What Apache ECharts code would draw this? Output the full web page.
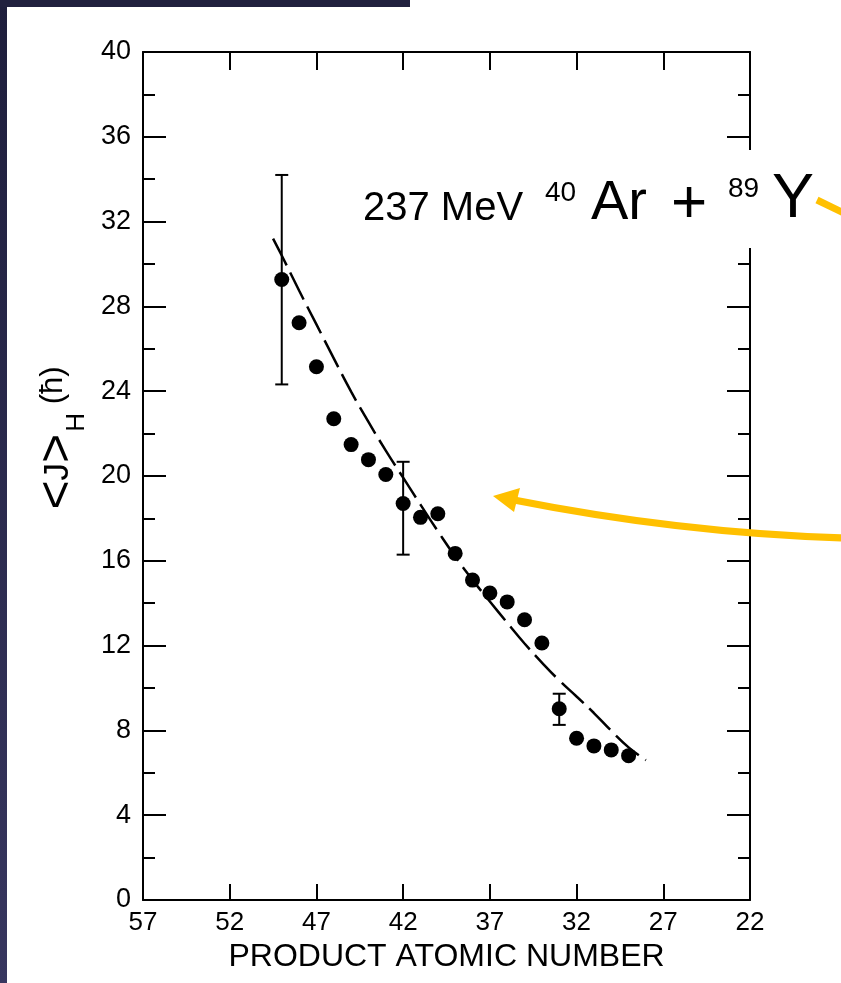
<!DOCTYPE html>
<html><head><meta charset="utf-8">
<script src="https://cdn.jsdelivr.net/npm/echarts@6/dist/echarts.min.js"></script>
<style>html,body{margin:0;padding:0;background:#fff}#c{width:841px;height:983px}</style>
</head><body><div id="c"></div>
<script>
// Measured points: product atomic number vs <J>_H
const atomicNumbers = [49, 48, 47, 46, 45, 44, 43, 42, 41, 40, 39, 38, 37, 36, 35, 34, 33, 32, 31, 30, 29];
const spinValues = [29.27, 27.23, 25.15, 22.70, 21.48, 20.77, 20.07, 18.70, 18.05, 18.22, 16.35, 15.09, 14.48, 14.06, 13.22, 12.12, 9.02, 7.63, 7.27, 7.08, 6.81];
// Error bars
const errorBarZ = [49, 42, 33];
const errorBarLow = [24.32, 16.29, 8.26];
const errorBarHigh = [34.2, 20.67, 9.73];
// Dashed calculated curve
const curveZ = [49.5, 49, 48, 47, 46, 45, 44, 43, 42, 41, 40, 39, 38, 37, 36, 35, 34, 33, 32, 31, 30, 29, 28];
const curveJ = [31.2, 30.4, 28.75, 27.15, 25.55, 23.98, 22.55, 21.2, 19.92, 18.65, 17.4, 16.2, 15.1, 14.08, 13.08, 12.1, 11.2, 10.36, 9.6, 8.82, 7.98, 7.2, 6.6];
// Tick labels
const xTickLabels = [57, 52, 47, 42, 37, 32, 27, 22];
const yTickLabels = [0, 4, 8, 12, 16, 20, 24, 28, 32, 36, 40];

const FONT = '"Liberation Sans", Arial, sans-serif';
const INK = '#000';
const GOLD = '#FFC000';

const chart = echarts.init(document.getElementById('c'), null, {renderer: 'canvas'});

const axisLineStyle = {color: INK, width: 2};

const option = {
  animation: false,
  backgroundColor: '#fff',
  textStyle: {fontFamily: FONT},
  grid: {left: 143, right: 91, top: 52, bottom: 83, containLabel: false, outerBoundsMode: 'none'},
  xAxis: [{
    type: 'value', inverse: true, min: xTickLabels[xTickLabels.length - 1], max: xTickLabels[0], position: 'bottom',
    axisLine: {show: true, onZero: false, lineStyle: axisLineStyle},
    axisTick: {show: true, inside: true, length: 16, customValues: xTickLabels, lineStyle: axisLineStyle},
    axisLabel: {show: true, customValues: xTickLabels, color: INK, fontSize: 26, fontFamily: FONT, margin: 10},
    splitLine: {show: false},
    name: 'PRODUCT ATOMIC NUMBER', nameLocation: 'middle', nameGap: 39,
    nameTextStyle: {color: INK, fontSize: 32, fontFamily: FONT}
  }, {
    type: 'value', inverse: true, min: xTickLabels[xTickLabels.length - 1], max: xTickLabels[0], position: 'top',
    axisLine: {show: true, onZero: false, lineStyle: axisLineStyle},
    axisTick: {show: true, inside: true, length: 18, customValues: xTickLabels, lineStyle: axisLineStyle},
    axisLabel: {show: false},
    splitLine: {show: false}
  }],
  yAxis: [{
    type: 'value', min: yTickLabels[0], max: yTickLabels[yTickLabels.length - 1], interval: 4, position: 'left',
    axisLine: {show: true, onZero: false, lineStyle: axisLineStyle},
    axisTick: {show: true, inside: true, length: 23, lineStyle: axisLineStyle},
    minorTick: {show: true, splitNumber: 2, length: 12, lineStyle: axisLineStyle},
    axisLabel: {color: INK, fontSize: 27, fontFamily: FONT, margin: 12},
    splitLine: {show: false}, minorSplitLine: {show: false},
    name: '{b|<}{j|J}{b|>}{s|H}{p| (ħ)}',
    nameLocation: 'middle', nameRotate: 90, nameGap: 49,
    nameTextStyle: {
      color: INK, fontFamily: FONT, padding: [0, 0, 0, 76],
      rich: {
        b: {fontSize: 50, fontFamily: FONT, color: INK},
        j: {fontSize: 35, fontFamily: FONT, color: INK},
        s: {fontSize: 26, fontFamily: FONT, color: INK, padding: [38, 0, 0, 2]},
        p: {fontSize: 31, fontFamily: FONT, color: INK, padding: [0, 0, 10, 0]}
      }
    }
  }, {
    type: 'value', min: yTickLabels[0], max: yTickLabels[yTickLabels.length - 1], interval: 4, position: 'right',
    axisLine: {show: true, onZero: false, lineStyle: axisLineStyle},
    axisTick: {show: true, inside: true, length: 23, lineStyle: axisLineStyle},
    minorTick: {show: true, splitNumber: 2, length: 12, lineStyle: axisLineStyle},
    axisLabel: {show: false},
    splitLine: {show: false}, minorSplitLine: {show: false}
  }],
  series: [{
    type: 'line', name: 'calculation', smooth: true, symbol: 'none', showSymbol: false,
    data: curveZ.map((z, i) => [z, curveJ[i]]),
    lineStyle: {color: INK, width: 2.5, type: [30, 8], opacity: 1},
    z: 2
  }, {
    type: 'custom', name: 'errors',
    encode: {x: 0, y: [1, 2]},
    data: errorBarZ.map((z, i) => [z, errorBarLow[i], errorBarHigh[i]]),
    renderItem: function (params, api) {
      const z = api.value(0);
      const lo = api.coord([z, api.value(1)]);
      const hi = api.coord([z, api.value(2)]);
      const w = 6.5;
      const style = {stroke: INK, lineWidth: 2};
      return {type: 'group', children: [
        {type: 'line', shape: {x1: lo[0], y1: lo[1], x2: hi[0], y2: hi[1]}, style: style},
        {type: 'line', shape: {x1: lo[0] - w, y1: lo[1], x2: lo[0] + w, y2: lo[1]}, style: style},
        {type: 'line', shape: {x1: hi[0] - w, y1: hi[1], x2: hi[0] + w, y2: hi[1]}, style: style}
      ]};
    },
    z: 3
  }, {
    type: 'scatter', name: 'data', symbol: 'circle', symbolSize: 15,
    data: atomicNumbers.map((z, i) => [z, spinValues[i]]),
    itemStyle: {color: INK, opacity: 1},
    z: 4
  }],
  graphic: [
    {type: 'rect', z: 100, shape: {x: 0, y: 0, width: 7, height: 983},
      style: {fill: new echarts.graphic.LinearGradient(0, 0, 0, 1, [{offset: 0, color: '#1e1e3c'}, {offset: 1, color: '#37365f'}])}},
    {type: 'rect', z: 100, shape: {x: 0, y: 0, width: 410, height: 7}, style: {fill: '#20203e'}},
    {type: 'rect', z: 50, shape: {x: 352, y: 150, width: 466, height: 98}, style: {fill: '#fff'}},
    {type: 'text', z: 60, x: 363, y: 209, style: {text: '237 MeV', fontSize: 40, fontFamily: FONT, fill: '#000', align: 'left', verticalAlign: 'middle'}},
    {type: 'text', z: 60, x: 545, y: 193, style: {text: '40', fontSize: 28, fontFamily: FONT, fill: '#000', align: 'left', verticalAlign: 'middle'}},
    {type: 'text', z: 60, x: 591, y: 204, style: {text: 'Ar', fontSize: 56, fontFamily: FONT, fill: '#000', align: 'left', verticalAlign: 'middle'}},
    {type: 'text', z: 60, x: 671, y: 205, style: {text: '+', fontSize: 62, fontFamily: FONT, fill: '#000', align: 'left', verticalAlign: 'middle'}},
    {type: 'text', z: 60, x: 728, y: 189, style: {text: '89', fontSize: 28, fontFamily: FONT, fill: '#000', align: 'left', verticalAlign: 'middle'}},
    {type: 'text', z: 60, x: 772, y: 200, style: {text: 'Y', fontSize: 63, fontFamily: FONT, fill: '#000', align: 'left', verticalAlign: 'middle'}},
    {type: 'bezierCurve', z: 70, shape: {x1: 845, y1: 538, x2: 514, y2: 500, cpx1: 680, cpy1: 533},
      style: {stroke: GOLD, lineWidth: 7, fill: null}},
    {type: 'polygon', z: 70, shape: {points: [[493, 496], [520, 488], [514, 512]]}, style: {fill: GOLD}},
    {type: 'line', z: 70, shape: {x1: 817, y1: 200, x2: 846, y2: 214}, style: {stroke: GOLD, lineWidth: 7}}
  ]
};
chart.setOption(option);
</script>
</body></html>
